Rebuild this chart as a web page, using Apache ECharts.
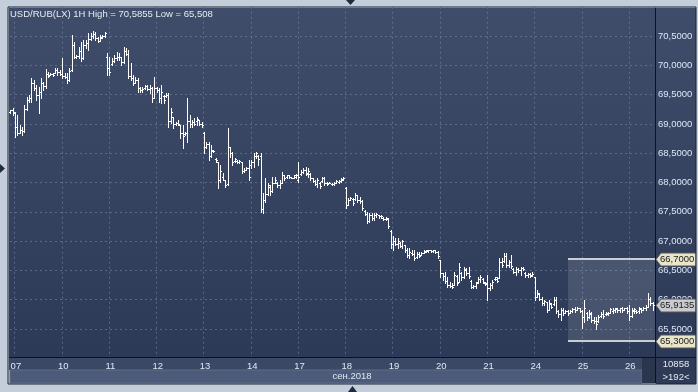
<!DOCTYPE html>
<html><head><meta charset="utf-8">
<script src="https://cdn.jsdelivr.net/npm/echarts/dist/echarts.min.js"></script>
<style>html,body{margin:0;padding:0;background:#c4cedb;}#c{width:698px;height:392px;}</style>
</head><body><div id="c"></div>
<script>
// ---- data ----
const titleText = 'USD/RUB(LX) 1H High = 70,5855 Low = 65,508';
const monthLabel = 'сен.2018';
const footerTop = '10858';
const footerBottom = '>192<';
const dayLabels = ['06','07','10','11','12','13','14','17','18','19','20','21','24','25','26'];
const barsPerDay = [2,20,20,20,20,20,20,20,20,20,20,20,20,20,11];
const yTickMin = 65, yTickMax = 71, yTickStep = 0.5;
const levelTags = [66.7, 65.3];
const lastPrice = 65.9135;
const boxStartBar = 236;

const open = [
69.20,69.23,
69.18,68.95,68.85,68.90,68.88,69.25,69.40,69.45,69.70,69.62,69.50,69.55,69.70,69.65,69.85,69.84,69.85,69.87,69.92,69.88,
69.86,69.82,69.80,69.75,69.92,70.35,70.15,70.16,70.25,70.12,70.35,70.38,70.45,70.50,70.53,70.46,70.42,70.48,70.50,70.15,
69.95,70.02,70.08,70.12,70.15,70.14,70.05,70.25,70.20,69.82,69.78,69.70,69.75,69.62,69.58,69.62,69.64,69.60,69.62,69.45,
69.62,69.58,69.45,69.48,69.48,69.50,69.05,69.12,69.00,69.02,68.98,68.85,68.82,68.84,69.05,69.00,69.04,69.05,69.06,69.00,
68.85,68.60,68.65,68.45,68.54,68.40,68.35,68.05,68.10,68.04,67.98,68.60,68.50,68.36,68.36,68.35,68.35,68.20,68.22,68.24,
68.30,68.35,68.45,68.45,68.45,67.55,67.70,67.80,67.92,67.85,68.00,68.00,67.95,68.00,68.12,68.09,68.12,68.09,68.08,68.10,
68.05,68.14,68.18,68.22,68.16,68.15,68.07,68.03,67.98,68.00,68.02,68.07,68.00,68.00,67.98,67.97,68.00,68.01,68.02,68.05,
67.90,67.62,67.70,67.72,67.72,67.78,67.70,67.68,67.52,67.47,67.35,67.45,67.40,67.44,67.44,67.42,67.40,67.38,67.38,67.18,
66.95,67.00,66.95,66.97,66.92,66.93,66.85,66.76,66.80,66.78,66.73,66.78,66.77,66.80,66.82,66.83,66.84,66.83,66.84,66.82,
66.68,66.45,66.40,66.32,66.25,66.24,66.25,66.40,66.30,66.45,66.38,66.50,66.45,66.32,66.22,66.23,66.30,66.36,66.35,66.29,
66.28,66.20,66.25,66.35,66.36,66.37,66.65,66.66,66.75,66.60,66.65,66.53,66.48,66.52,66.50,66.54,66.46,66.42,66.44,66.42,
66.38,66.05,66.10,66.02,65.95,65.96,65.82,65.93,65.92,66.00,65.80,65.75,65.82,65.78,65.80,65.78,65.80,65.84,65.83,65.85,
65.81,65.70,65.78,65.70,65.76,65.66,65.64,65.64,65.72,65.76,65.75,65.76,65.78,65.80,65.82,65.84,65.83,65.85,65.83,65.85,
65.80,65.72,65.80,65.80,65.80,65.84,65.83,65.86,65.88,66.02,65.95
];
const high = [
69.24,69.27,
69.20,69.15,68.98,68.95,69.32,69.46,69.49,69.78,69.75,69.66,69.63,69.78,69.72,69.94,69.89,69.87,69.87,69.95,69.95,69.92,
70.12,69.87,69.87,69.95,70.52,70.40,70.18,70.31,70.40,70.43,70.43,70.55,70.55,70.5855,70.57,70.48,70.52,70.52,70.57,70.21,
70.14,70.12,70.18,70.23,70.21,70.14,70.31,70.30,70.26,70.04,69.83,69.80,69.78,69.63,69.63,69.66,69.66,69.66,69.63,69.80,
69.63,69.61,69.66,69.49,69.53,69.53,69.27,69.12,69.03,69.07,68.98,68.98,68.86,69.44,69.15,69.07,69.10,69.12,69.07,69.03,
68.86,68.69,68.69,68.64,68.55,68.42,68.35,68.30,68.16,68.04,68.93,68.61,68.52,68.42,68.38,68.38,68.35,68.25,68.26,68.38,
68.38,68.50,68.52,68.47,68.50,67.82,68.08,67.99,67.96,68.09,68.09,68.01,68.04,68.18,68.13,68.13,68.13,68.09,68.13,68.14,
68.35,68.21,68.25,68.26,68.25,68.16,68.08,68.04,68.08,68.01,68.09,68.09,68.01,68.01,67.99,68.01,68.04,68.04,68.08,68.09,
67.92,67.74,67.75,67.74,67.82,67.79,67.75,67.70,67.53,67.50,67.48,67.48,67.48,67.48,67.45,67.45,67.41,67.41,67.39,67.19,
67.09,67.05,67.05,66.98,67.02,66.93,66.88,66.88,66.85,66.85,66.81,66.81,66.81,66.85,66.85,66.85,66.85,66.85,66.85,66.83,
66.68,66.46,66.47,66.39,66.30,66.29,66.47,66.42,66.63,66.47,66.56,66.54,66.56,66.34,66.25,66.30,66.39,66.42,66.37,66.30,
66.42,66.28,66.34,66.39,66.39,66.71,66.71,66.80,66.80,66.68,66.76,66.54,66.56,66.54,66.56,66.56,66.47,66.46,66.46,66.47,
66.39,66.17,66.11,66.05,65.99,65.96,65.99,65.94,66.05,66.05,65.82,65.86,65.86,65.82,65.82,65.82,65.86,65.88,65.88,65.86,
65.82,65.99,65.79,65.82,65.79,65.70,65.70,65.74,65.79,65.82,65.79,65.79,65.86,65.86,65.86,65.86,65.86,65.88,65.86,65.88,
65.91,65.86,65.86,65.82,65.88,65.86,65.88,65.91,66.11,66.05,65.96
];
const low = [
69.19,69.15,
68.78,68.81,68.84,68.81,68.86,69.24,69.38,69.37,69.58,69.41,69.19,69.44,69.58,69.61,69.80,69.83,69.82,69.87,69.83,69.83,
69.78,69.78,69.70,69.74,69.90,70.12,70.12,70.12,70.07,70.10,70.30,70.26,70.43,70.47,70.43,70.40,70.41,70.47,70.48,69.83,
69.83,70.00,70.06,70.09,70.09,70.00,70.04,70.18,69.78,69.75,69.66,69.69,69.54,69.54,69.54,69.60,69.58,69.53,69.37,69.44,
69.54,69.37,69.36,69.36,69.46,68.95,69.02,68.93,68.98,68.98,68.76,68.59,68.81,68.69,68.95,68.95,68.98,68.98,68.98,68.95,
68.50,68.59,68.38,68.43,68.52,68.35,67.91,68.01,68.04,67.92,67.96,68.44,68.30,68.35,68.33,68.33,68.16,68.18,68.21,68.04,
68.25,68.26,68.42,68.30,67.50,67.48,67.67,67.79,67.79,67.84,67.99,67.92,67.91,67.99,68.04,68.08,68.08,68.08,68.08,68.08,
68.01,68.13,68.16,68.13,68.09,68.04,68.01,67.96,67.92,67.91,68.01,67.96,67.96,67.99,67.96,67.96,67.99,67.99,68.01,68.04,
67.57,67.62,67.70,67.62,67.70,67.67,67.65,67.53,67.45,67.31,67.33,67.36,67.36,67.41,67.39,67.39,67.36,67.36,67.22,66.88,
66.85,66.93,66.88,66.90,66.88,66.81,66.73,66.71,66.76,66.68,66.71,66.73,66.76,66.80,66.81,66.81,66.81,66.81,66.80,66.71,
66.39,66.34,66.29,66.22,66.22,66.20,66.25,66.25,66.30,66.34,66.37,66.42,66.37,66.20,66.20,66.20,66.29,66.30,66.29,66.25,
66.00,66.17,66.20,66.34,66.30,66.37,66.56,66.64,66.56,66.56,66.54,66.46,66.42,66.47,66.42,66.51,66.39,66.39,66.39,66.40,
65.99,66.05,65.99,65.91,65.91,65.79,65.82,65.86,65.91,65.77,65.71,65.65,65.74,65.77,65.74,65.77,65.79,65.79,65.82,65.79,
65.52,65.62,65.65,65.69,65.62,65.60,65.508,65.62,65.70,65.69,65.74,65.74,65.77,65.77,65.79,65.79,65.79,65.79,65.82,65.77,
65.65,65.70,65.77,65.77,65.77,65.79,65.82,65.82,65.88,65.91,65.82
];
const close = [
69.23,69.20,
68.95,68.85,68.90,68.88,69.25,69.40,69.45,69.70,69.62,69.50,69.55,69.70,69.65,69.85,69.82,69.85,69.84,69.92,69.88,69.86,
69.82,69.80,69.75,69.90,70.35,70.15,70.16,70.25,70.12,70.35,70.38,70.45,70.50,70.53,70.46,70.42,70.47,70.50,70.55,69.95,
69.88,70.08,70.12,70.15,70.14,70.05,70.25,70.20,69.82,69.78,69.70,69.75,69.62,69.58,69.60,69.64,69.60,69.62,69.45,69.62,
69.58,69.45,69.55,69.40,69.50,69.05,69.20,69.00,69.02,69.00,68.85,68.80,68.84,69.05,69.00,69.04,69.00,69.08,69.00,68.98,
68.60,68.65,68.45,68.55,68.53,68.38,68.05,68.20,68.05,67.95,68.60,68.50,68.35,68.40,68.35,68.37,68.20,68.22,68.24,68.10,
68.35,68.45,68.50,68.40,67.55,67.70,67.80,67.95,67.85,68.00,68.05,67.95,68.00,68.12,68.08,68.12,68.10,68.08,68.12,68.12,
68.10,68.18,68.22,68.15,68.20,68.08,68.03,67.98,68.05,67.94,68.07,68.00,67.98,67.99,67.97,68.00,68.02,68.03,68.06,68.08,
67.62,67.70,67.73,67.65,67.78,67.70,67.68,67.56,67.47,67.35,67.45,67.40,67.44,67.46,67.42,67.43,67.38,67.39,67.25,66.95,
67.00,66.95,67.00,66.92,67.00,66.85,66.76,66.82,66.78,66.72,66.78,66.75,66.80,66.83,66.84,66.84,66.83,66.84,66.82,66.75,
66.45,66.40,66.32,66.25,66.24,66.22,66.42,66.28,66.55,66.38,66.52,66.45,66.40,66.22,66.23,66.28,66.36,66.38,66.30,66.27,
66.20,66.25,66.30,66.38,66.32,66.65,66.60,66.75,66.60,66.65,66.58,66.48,66.52,66.50,66.54,66.52,66.42,66.44,66.41,66.44,
66.05,66.12,66.02,65.95,65.98,65.82,65.95,65.88,66.00,65.80,65.75,65.82,65.78,65.80,65.78,65.80,65.84,65.82,65.86,65.81,
65.70,65.85,65.70,65.78,65.66,65.64,65.58,65.70,65.76,65.72,65.77,65.78,65.84,65.82,65.85,65.83,65.85,65.82,65.85,65.80,
65.72,65.82,65.84,65.79,65.85,65.82,65.86,65.88,66.02,65.95,65.9135
];

// ---- build category axis from day labels ----
const categories = [];
const dayStart = new Set();
dayLabels.forEach((d, di) => {
  for (let k = 0; k < barsPerDay[di]; k++) {
    if (k === 0 && di > 0) dayStart.add(categories.length);
    categories.push(d + '|' + k);
  }
});
const seriesData = open.map((o, i) => [i, o, close[i], low[i], high[i]]);
const fmt = v => v.toFixed(4).replace('.', ',');
const FONT = 'Liberation Sans, Arial, sans-serif';
const W = 698, H = 392;
const PLOT_L = 9, PLOT_R = 655, PLOT_T = 8, PLOT_B = 357, PANEL_R = 696, PANEL_B = 383;

function renderOHLC(params, api) {
  const i = api.value(0);
  const pO = api.coord([i, api.value(1)]);
  const pC = api.coord([i, api.value(2)]);
  const pL = api.coord([i, api.value(3)]);
  const pH = api.coord([i, api.value(4)]);
  const x = Math.round(pO[0]) - 1;
  const yH = Math.round(pH[1]), yL = Math.round(pL[1]);
  const yO = Math.round(pO[1]), yC = Math.round(pC[1]);
  const st = { fill: '#ffffff' };
  return { type: 'group', children: [
    { type: 'rect', shape: { x: x, y: yH, width: 1, height: Math.max(1, yL - yH + 1) }, style: st },
    { type: 'rect', shape: { x: x - 1, y: yO, width: 1, height: 1 }, style: st },
    { type: 'rect', shape: { x: x + 1, y: yC, width: 1, height: 1 }, style: st }
  ]};
}

const chart = echarts.init(document.getElementById('c'), null, { renderer: 'canvas' });
const gridTop = 36 - (yTickMax - 70.5) * 58.6;
const gridBottomPx = 36 + (70.5 - yTickMin) * 58.6;
const dash = [2, 3];
const gridColor = 'rgba(120,138,170,0.55)';

const baseGraphics = [
  { type: 'rect', z: -10, shape: { x: PLOT_L, y: PLOT_T, width: PANEL_R - PLOT_L, height: PLOT_B - PLOT_T },
    style: { fill: { type: 'linear', x: 0, y: 0, x2: 0, y2: 1, colorStops: [
      { offset: 0, color: '#3f4d6b' }, { offset: 1, color: '#2c3a57' } ] } } },
  { type: 'rect', z: 20, shape: { x: 0, y: 0, width: W, height: PLOT_T - 1 }, style: { fill: '#c4cedb' } },
  { type: 'rect', z: 20, shape: { x: 0, y: 0, width: PLOT_L - 1, height: H }, style: { fill: '#c4cedb' } },
  { type: 'rect', z: 20, shape: { x: PANEL_R, y: 0, width: W - PANEL_R, height: H }, style: { fill: '#c4cedb' } },
  { type: 'rect', z: 20, shape: { x: 0, y: PANEL_B + 1, width: W, height: H - PANEL_B }, style: { fill: '#c4cedb' } },
  { type: 'rect', z: 20, shape: { x: PLOT_L - 1, y: PLOT_T - 1, width: PANEL_R - PLOT_L + 1, height: PANEL_B - PLOT_T + 2 },
    style: { fill: null, stroke: '#1b2335', lineWidth: 1 } },
  // bottom axis panel
  { type: 'rect', z: 15, shape: { x: PLOT_L, y: PLOT_B, width: PANEL_R - PLOT_L, height: 13 }, style: { fill: '#3a4866' } },
  { type: 'rect', z: 15, shape: { x: PLOT_L + 1, y: PLOT_B + 13, width: 632, height: 13 }, style: { fill: '#4c5b79', stroke: '#5e6c88', lineWidth: 1 } },
  { type: 'rect', z: 15, shape: { x: 642, y: PLOT_B + 1, width: 13, height: 25 }, style: { fill: '#2a354e' } },
  { type: 'rect', z: 15, shape: { x: PLOT_R + 1, y: PLOT_B + 1, width: PANEL_R - PLOT_R - 1, height: 26 }, style: { fill: '#2f3b56' } },
  { type: 'line', z: 16, shape: { x1: PLOT_L, y1: PLOT_B + 0.5, x2: PANEL_R, y2: PLOT_B + 0.5 }, style: { stroke: '#0d1220', lineWidth: 1 } },
  { type: 'line', z: 16, shape: { x1: PLOT_R + 0.5, y1: PLOT_T, x2: PLOT_R + 0.5, y2: PANEL_B }, style: { stroke: '#0d1220', lineWidth: 1 } },
  { type: 'text', z: 17, style: { text: monthLabel, x: 352, y: PLOT_B + 19.5, textAlign: 'center', textVerticalAlign: 'middle',
    fill: '#e2e8f2', font: '9.5px ' + FONT } },
  { type: 'text', z: 17, style: { text: footerTop, x: 676, y: PLOT_B + 7, textAlign: 'center', textVerticalAlign: 'middle',
    fill: '#e2e8f2', font: '9.5px ' + FONT } },
  { type: 'text', z: 17, style: { text: footerBottom, x: 676, y: PLOT_B + 20, textAlign: 'center', textVerticalAlign: 'middle',
    fill: '#e2e8f2', font: '9.5px ' + FONT } },
  { type: 'text', z: 17, style: { text: titleText, x: 10, y: 14, textVerticalAlign: 'middle',
    fill: '#e6ebf3', font: '9.5px ' + FONT } },
  { type: 'polygon', z: 21, shape: { points: [[346, 0], [355, 0], [350.5, 5]] }, style: { fill: '#1e2a40' } },
  { type: 'polygon', z: 21, shape: { points: [[348, 392], [357, 392], [352.5, 386]] }, style: { fill: '#1e2a40' } },
  { type: 'polygon', z: 21, shape: { points: [[0, 164], [0, 173], [5, 168.5]] }, style: { fill: '#1e2a40' } }
];

chart.setOption({
  animation: false,
  backgroundColor: '#c4cedb',
  grid: { left: 10, right: W - PLOT_R, top: gridTop, bottom: H - gridBottomPx, containLabel: false },
  xAxis: [{
    type: 'category', data: categories, boundaryGap: true,
    axisLine: { show: false }, axisTick: { show: false }, axisLabel: { show: false },
    splitLine: { show: true, interval: (i) => dayStart.has(i), lineStyle: { color: gridColor, type: dash, width: 1 } }
  }, {
    type: 'category', data: categories, boundaryGap: true, position: 'bottom', offset: 0, z: 40,
    axisLine: { show: false }, axisTick: { show: false }, splitLine: { show: false },
    axisLabel: { interval: (i) => dayStart.has(i), formatter: (v) => v.split('|')[0],
      color: '#e2e8f2', fontSize: 9.5, fontFamily: FONT, margin: 3, align: 'center' }
  }],
  yAxis: {
    type: 'value', position: 'right', min: yTickMin, max: yTickMax, interval: yTickStep, scale: true,
    axisLine: { show: false }, axisTick: { show: false },
    axisLabel: { formatter: (v) => (v <= yTickMin || v >= yTickMax) ? '' : fmt(v),
      color: '#dde7f7', fontSize: 9.5, fontFamily: FONT, margin: 3 },
    splitLine: { show: true, lineStyle: { color: gridColor, type: dash, width: 1 } }
  },
  series: [{
    type: 'custom', renderItem: renderOHLC, data: seriesData, xAxisIndex: 0,
    encode: { x: 0, y: [1, 2, 3, 4] }, z: 5, clip: false
  }],
  graphic: baseGraphics
});

const band = chart.convertToPixel({ xAxisIndex: 0 }, 1) - chart.convertToPixel({ xAxisIndex: 0 }, 0);
const boxX = chart.convertToPixel({ xAxisIndex: 0 }, boxStartBar) - band / 2;
const yTop = chart.convertToPixel({ yAxisIndex: 0 }, levelTags[0]);
const yBot = chart.convertToPixel({ yAxisIndex: 0 }, levelTags[1]);
const yLast = chart.convertToPixel({ yAxisIndex: 0 }, lastPrice);
function tag(yc, txt, fill) {
  const y = Math.round(yc) + 0.5;
  return [
    { type: 'polygon', z: 18, shape: { points: [[PLOT_R + 1, y], [PLOT_R + 6, y - 6.5], [PANEL_R, y - 6.5], [PANEL_R, y + 6.5], [PLOT_R + 6, y + 6.5]] },
      style: { fill: fill, stroke: '#59575a', lineWidth: 1 } },
    { type: 'text', z: 19, style: { text: txt, x: PLOT_R + 5, y: y, textVerticalAlign: 'middle', fill: '#1b1b1b', font: '9.5px ' + FONT } }
  ];
}
const overlay = [
  { type: 'rect', z: 1, shape: { x: Math.round(boxX), y: Math.round(yTop), width: PLOT_R - Math.round(boxX), height: Math.round(yBot) - Math.round(yTop) },
    style: { fill: 'rgba(255,255,255,0.12)' } },
  { type: 'rect', z: 6, shape: { x: Math.round(boxX), y: Math.round(yTop) - 1, width: PLOT_R - Math.round(boxX), height: 2 }, style: { fill: '#c9cdd4' } },
  { type: 'rect', z: 6, shape: { x: Math.round(boxX), y: Math.round(yBot) - 1, width: PLOT_R - Math.round(boxX), height: 2 }, style: { fill: '#c9cdd4' } },
  ...tag(yTop, fmt(levelTags[0]), '#e8e5c9'),
  ...tag(yBot, fmt(levelTags[1]), '#e8e5c9'),
  ...tag(yLast, fmt(lastPrice), '#c9cbce')
];
chart.setOption({ graphic: baseGraphics.concat(overlay) });
</script>
</body></html>
